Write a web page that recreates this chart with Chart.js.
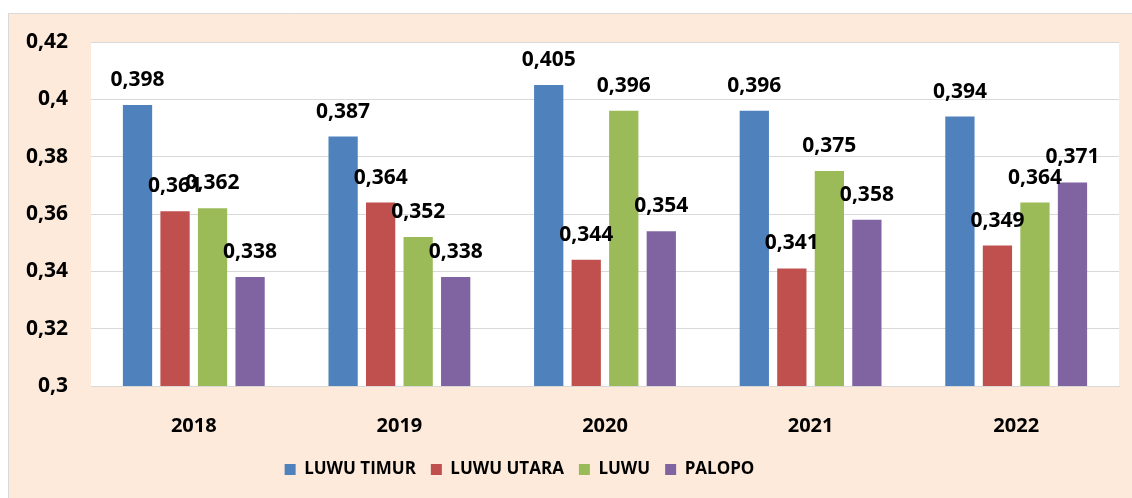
<!DOCTYPE html>
<html>
<head>
<meta charset="utf-8">
<script src="https://cdn.jsdelivr.net/npm/chart.js@4.4.1/dist/chart.umd.min.js"></script>
<style>
  html, body { margin: 0; padding: 0; background: #fff; }
  #wrap { width: 1132px; height: 498px; }
</style>
</head>
<body>
<div id="wrap"><canvas id="chart"></canvas></div>
<script>
// data
const years = ['2018', '2019', '2020', '2021', '2022'];
const luwuTimur = [0.398, 0.387, 0.405, 0.396, 0.394];
const luwuUtara = [0.361, 0.364, 0.344, 0.341, 0.349];
const luwu = [0.362, 0.352, 0.396, 0.375, 0.364];
const palopo = [0.338, 0.338, 0.354, 0.358, 0.371];
const yTicks = [0.3, 0.32, 0.34, 0.36, 0.38, 0.4, 0.42];

const FONT = '"Open Sans", "Liberation Sans", sans-serif';

// comma decimal like the source sheet
const fmt = v => parseFloat(v.toFixed(3)).toString().replace('.', ',');

// frame + white plot area
const framePlugin = {
    id: 'frame',
    beforeDraw(chart) {
        const { ctx, chartArea: { left, top, right, bottom } } = chart;
        ctx.save();
        ctx.fillStyle = '#ffffff';
        ctx.fillRect(0, 0, chart.width, chart.height);
        ctx.fillStyle = '#FDEADA';
        ctx.fillRect(8, 13, chart.width - 8, chart.height - 13);
        ctx.strokeStyle = '#d9d9d9';
        ctx.lineWidth = 1;
        ctx.beginPath();
        ctx.moveTo(8.5, chart.height);
        ctx.lineTo(8.5, 13.5);
        ctx.lineTo(chart.width, 13.5);
        ctx.stroke();
        ctx.fillStyle = '#ffffff';
        ctx.fillRect(left, top, right - left, bottom - top);
        ctx.restore();
    },
    // legend in the source sits a bit left of centre
    afterLayout(chart) {
        if (chart.legend) {
            chart.legend.left -= 44;
            chart.legend.right -= 44;
        }
    }
};

// value labels above each bar
const valueLabels = {
    id: 'valueLabels',
    afterDatasetsDraw(chart) {
        const { ctx } = chart;
        ctx.save();
        ctx.font = `bold 21px ${FONT}`;
        ctx.fillStyle = '#000';
        ctx.textAlign = 'center';
        ctx.textBaseline = 'middle';
        chart.data.datasets.forEach((ds, di) => {
            const meta = chart.getDatasetMeta(di);
            meta.data.forEach((bar, i) => {
                ctx.fillText(fmt(ds.data[i]), bar.x, bar.y - 25);
            });
        });
        ctx.restore();
    }
};

new Chart(document.getElementById('chart'), {
    type: 'bar',
    data: {
        labels: years,
        datasets: [
            { label: 'LUWU TIMUR', data: luwuTimur, backgroundColor: '#4F81BD' },
            { label: 'LUWU UTARA', data: luwuUtara, backgroundColor: '#C0504D' },
            { label: 'LUWU', data: luwu, backgroundColor: '#9BBB59' },
            { label: 'PALOPO', data: palopo, backgroundColor: '#8064A2' }
        ]
    },
    options: {
        responsive: true,
        maintainAspectRatio: false,
        animation: false,
        layout: { padding: { left: 8, top: 42, right: 13, bottom: 10 } },
        datasets: {
            bar: { categoryPercentage: 0.73, barPercentage: 0.78, borderWidth: 0 }
        },
        scales: {
            x: {
                grid: { display: false },
                border: { display: true, color: '#d9d9d9' },
                ticks: { color: '#000', font: { family: FONT, size: 20, weight: 'bold' }, padding: 20 },
                afterFit: scale => { scale.height = 60; }
            },
            y: {
                min: 0.3,
                max: 0.42,
                afterBuildTicks: scale => { scale.ticks = yTicks.map(v => ({ value: v })); },
                afterFit: scale => { scale.width = 83; },
                grid: { color: '#d9d9d9', drawTicks: false },
                border: { display: false },
                ticks: {
                    color: '#000',
                    padding: 23,
                    font: { family: FONT, size: 21, weight: 'bold' },
                    callback: v => fmt(v)
                }
            }
        },
        plugins: {
            legend: {
                position: 'bottom',
                labels: {
                    color: '#000',
                    boxWidth: 11,
                    boxHeight: 11,
                    padding: 15,
                    font: { family: FONT, size: 17, weight: 'bold' }
                }
            },
            tooltip: { enabled: false }
        }
    },
    plugins: [framePlugin, valueLabels]
});
</script>
</body>
</html>
